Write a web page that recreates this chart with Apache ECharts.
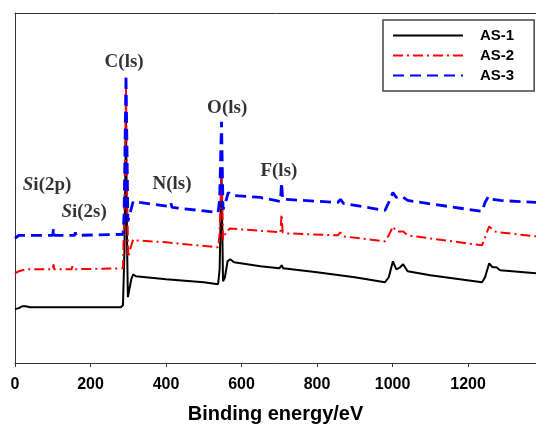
<!DOCTYPE html>
<html>
<head>
<meta charset="utf-8">
<script src="https://cdn.jsdelivr.net/npm/echarts@6/dist/echarts.min.js"></script>
<style>
html, body { margin: 0; padding: 0; background: #fff; }
#main { width: 536px; height: 429px; }
</style>
</head>
<body>
<div id="main"></div>
<script>
// binding energy (eV) and intensity (a.u.)
var as1 = [[0,54],[10,55],[20,57],[28,57],[40,56],[150,56],[280,56],[286,58],[290,114],[294,244],[297,114],[299,66],[302,67],[308,84],[313,89],[320,87],[400,84],[500,81],[538,79],[542,94],[547,189],[551,82],[556,86],[563,102],[570,104],[580,101],[650,97],[700,95],[707,98],[710,95],[800,91],[900,86],[980,81],[990,86],[1001,102],[1010,94],[1020,96],[1028,99],[1040,92],[1100,88],[1237,81],[1245,86],[1256,100],[1265,96],[1275,96],[1285,93],[1380,90]];
var as2 = [[0,90],[10,92],[30,94],[100,94],[102,99],[104,94],[150,94],[152,97],[155,94],[286,95],[290,164],[294,276],[297,164],[300,106],[305,114],[313,124],[320,123],[400,121],[538,116],[542,129],[547,197],[551,124],[560,132],[570,135],[600,134],[703,131],[706,149],[709,131],[720,130],[855,128],[862,131],[870,127],[980,122],[990,128],[1001,137],[1010,132],[1028,132],[1040,128],[1237,118],[1245,126],[1256,137],[1270,132],[1285,131],[1380,127]];
var as3 = [[0,125],[10,128],[100,128],[102,135],[104,128],[158,128],[160,131],[162,128],[286,129],[289,149],[294,289],[297,204],[299,142],[304,149],[313,162],[330,161],[410,157],[413,160],[416,156],[538,151],[542,164],[547,242],[551,154],[556,159],[565,171],[575,168],[650,166],[703,162],[706,181],[709,164],[720,164],[855,161],[862,164],[870,160],[980,153],[990,161],[1001,171],[1010,166],[1025,167],[1040,163],[1237,152],[1245,161],[1254,167],[1265,164],[1285,163],[1380,161]];

// peak annotations
var peakNames = ['{b|C(ls)}', '{b|O(ls)}', '{b|F(ls)}', '{b|N(ls)}', '{i|S}{b|i(2p)}', '{i|S}{b|i(2s)}'];
var peakX = [289, 562, 699, 416, 85, 183];
var peakY = [302, 256, 192, 179, 178, 151];

var myChart = echarts.init(document.getElementById('main'));

var peakData = [];
for (var i = 0; i < peakNames.length; i++) {
	peakData.push({ value: [peakX[i], peakY[i]], name: peakNames[i] });
}

var serifRich = {
	b: { fontFamily: 'Liberation Serif', fontWeight: 'bold', fontSize: 19, color: '#000' },
	i: { fontFamily: 'Liberation Serif', fontWeight: 'bold', fontStyle: 'italic', fontSize: 19, color: '#000' }
};

var option = {
	animation: false,
	grid: { left: 15, right: 0, top: 13, bottom: 65 },
	legend: {
		orient: 'vertical',
		left: 383, top: 20,
		width: 150,
		padding: [8, 20, 8, 9],
		itemGap: 5,
		itemWidth: 70, itemHeight: 14,
		borderColor: '#444', borderWidth: 1.5,
		itemStyle: { opacity: 0 },
		textStyle: { fontFamily: 'Liberation Sans', fontWeight: 'bold', fontSize: 15, color: '#000', padding: [0, 0, 0, 12] },
		data: ['AS-1', 'AS-2', 'AS-3']
	},
	xAxis: [{
		type: 'value', min: 0, max: 1380, interval: 200,
		name: 'Binding energy/eV', nameLocation: 'middle', nameGap: 41,
		nameTextStyle: { fontFamily: 'Liberation Sans', fontWeight: 'bold', fontSize: 20, color: '#000' },
		axisLine: { lineStyle: { color: '#333', width: 1 } },
		axisTick: { inside: false, length: 4, lineStyle: { color: '#333' } },
		axisLabel: { showMaxLabel: false, margin: 14, fontFamily: 'Liberation Sans', fontWeight: 'bold', fontSize: 16, color: '#000',
			formatter: function (v) { return String(v); } },
		splitLine: { show: false }
	}, {
		type: 'value', min: 0, max: 1380, position: 'top',
		axisLine: { lineStyle: { color: '#333', width: 1 } },
		axisTick: { show: false }, axisLabel: { show: false }, splitLine: { show: false }
	}],
	yAxis: {
		type: 'value', min: 0, max: 351,
		axisLine: { show: true, lineStyle: { color: '#333', width: 1 } },
		axisTick: { show: false }, axisLabel: { show: false }, splitLine: { show: false }
	},
	series: [
		{ name: 'AS-1', type: 'line', data: as1, symbol: 'none', color: '#000',
			lineStyle: { color: '#000', width: 2 } },
		{ name: 'AS-2', type: 'line', data: as2, symbol: 'none', color: '#f00',
			lineStyle: { color: '#f00', width: 2, type: [10, 4, 2, 4] } },
		{ name: 'AS-3', type: 'line', data: as3, symbol: 'none', color: '#00f',
			lineStyle: { color: '#00f', width: 2.8, type: [11, 6] } },
		{ name: 'peaks', type: 'scatter', data: peakData, symbolSize: 0,
			label: { show: true, position: 'inside', color: '#000', formatter: function (p) { return p.name; }, rich: serifRich },
			emphasis: { disabled: true },
			silent: true }
	]
};

myChart.setOption(option);
</script>
</body>
</html>
